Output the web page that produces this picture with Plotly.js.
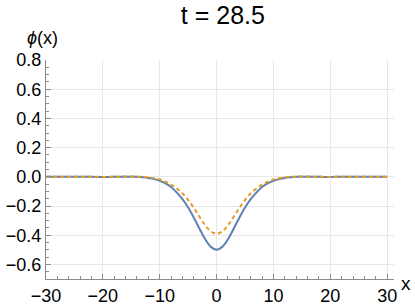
<!DOCTYPE html>
<html>
<head>
<meta charset="utf-8">
<script src="https://cdn.plot.ly/plotly-3.0.1.min.js"></script>
<style>html,body{margin:0;padding:0;background:#fff;}#chart{width:415px;height:307px;}</style>
</head>
<body>
<div id="chart"></div>
<script>
const xs = [-30,-29,-28,-27,-26,-25,-24,-23,-22,-21,-20,-19,-18,-17,-16,-15,-14,-13,-12,-11,-10,-9,-8,-7,-6,-5,-4,-3,-2,-1,
  0,1,2,3,4,5,6,7,8,9,10,11,12,13,14,15,16,17,18,19,20,21,22,23,24,25,26,27,28,29,30];
const phiBlue = [0.000,0.000,0.000,0.000,0.000,0.000,0.000,0.000,0.000,-0.001,-0.001,-0.001,0.000,0.001,0.001,0.001,0.000,-0.003,-0.008,-0.016,-0.028,-0.045,-0.070,-0.108,-0.153,-0.210,-0.280,-0.356,-0.428,-0.480,
  -0.500,-0.480,-0.428,-0.356,-0.280,-0.210,-0.153,-0.108,-0.070,-0.045,-0.028,-0.016,-0.008,-0.003,0.000,0.001,0.001,0.001,0.000,-0.001,-0.001,0.000,0.000,0.000,0.000,0.000,0.000,0.000,0.000,0.000,0.000];
const phiOrange = [0.000,0.000,0.000,0.000,0.000,0.000,0.000,0.000,0.000,0.000,-0.001,-0.001,0.000,0.001,0.002,0.002,0.001,-0.001,-0.004,-0.010,-0.019,-0.034,-0.053,-0.080,-0.114,-0.159,-0.213,-0.274,-0.332,-0.374,
  -0.390,-0.374,-0.332,-0.274,-0.213,-0.159,-0.114,-0.080,-0.053,-0.034,-0.019,-0.010,-0.004,-0.001,0.001,0.002,0.002,0.001,0.000,-0.001,-0.001,0.000,0.000,0.000,0.000,0.000,0.000,0.000,0.000,0.000,0.000];
const titleText = 't = 28.5';
const yLabel = '<i>ϕ</i>(x)';
const xLabel = 'x';

const font = 'Liberation Sans, Arial, sans-serif';
const traces = [
  {x: xs, y: phiBlue, type: 'scatter', mode: 'lines', line: {color: '#5E81B5', width: 2, shape: 'spline'}, hoverinfo: 'none'},
  {x: xs, y: phiOrange, type: 'scatter', mode: 'lines', line: {color: '#E19C24', width: 2, dash: '4px,3px', shape: 'spline'}, hoverinfo: 'none'}
];
const axisCommon = {
  showline: true, linecolor: '#8c8c8c', linewidth: 1,
  ticks: 'inside', ticklen: 5, tickcolor: '#8c8c8c', tickwidth: 1,
  showgrid: true, gridcolor: '#e8e8e8', gridwidth: 1,
  zeroline: false, mirror: false,
  tickfont: {family: font, size: 18, color: '#000'}
};
const layout = {
  width: 415, height: 307,
  margin: {l: 46, r: 21, t: 60, b: 28},
  paper_bgcolor: '#fff', plot_bgcolor: '#fff',
  showlegend: false,
  title: {text: titleText, font: {family: font, size: 25, color: '#000'}, x: 0.537, xanchor: 'center', y: 0.95, yanchor: 'middle'},
  xaxis: Object.assign({}, axisCommon, {range: [-30, 31.2], tickmode: 'linear', tick0: -30, dtick: 10, ticklabelstandoff: 0,
    minor: {dtick: 2, ticklen: 3, ticks: 'inside', tickcolor: '#8c8c8c', showgrid: false}}),
  yaxis: Object.assign({}, axisCommon, {range: [-0.7, 0.8], tickmode: 'linear', tick0: -0.6, dtick: 0.2, tickformat: '.1f', ticklabelstandoff: 0,
    minor: {dtick: 0.05, ticklen: 3, ticks: 'inside', tickcolor: '#8c8c8c', showgrid: false}}),
  annotations: [
    {text: yLabel, xref: 'paper', yref: 'paper', x: -0.06, y: 1.1, xanchor: 'left', yanchor: 'middle', showarrow: false, font: {family: font, size: 18, color: '#000'}},
    {text: xLabel, xref: 'paper', yref: 'paper', x: 1.035, y: -0.02, xanchor: 'center', yanchor: 'middle', showarrow: false, font: {family: font, size: 19, color: '#000'}}
  ]
};
Plotly.newPlot('chart', traces, layout, {staticPlot: true, displayModeBar: false});
</script>
</body>
</html>
